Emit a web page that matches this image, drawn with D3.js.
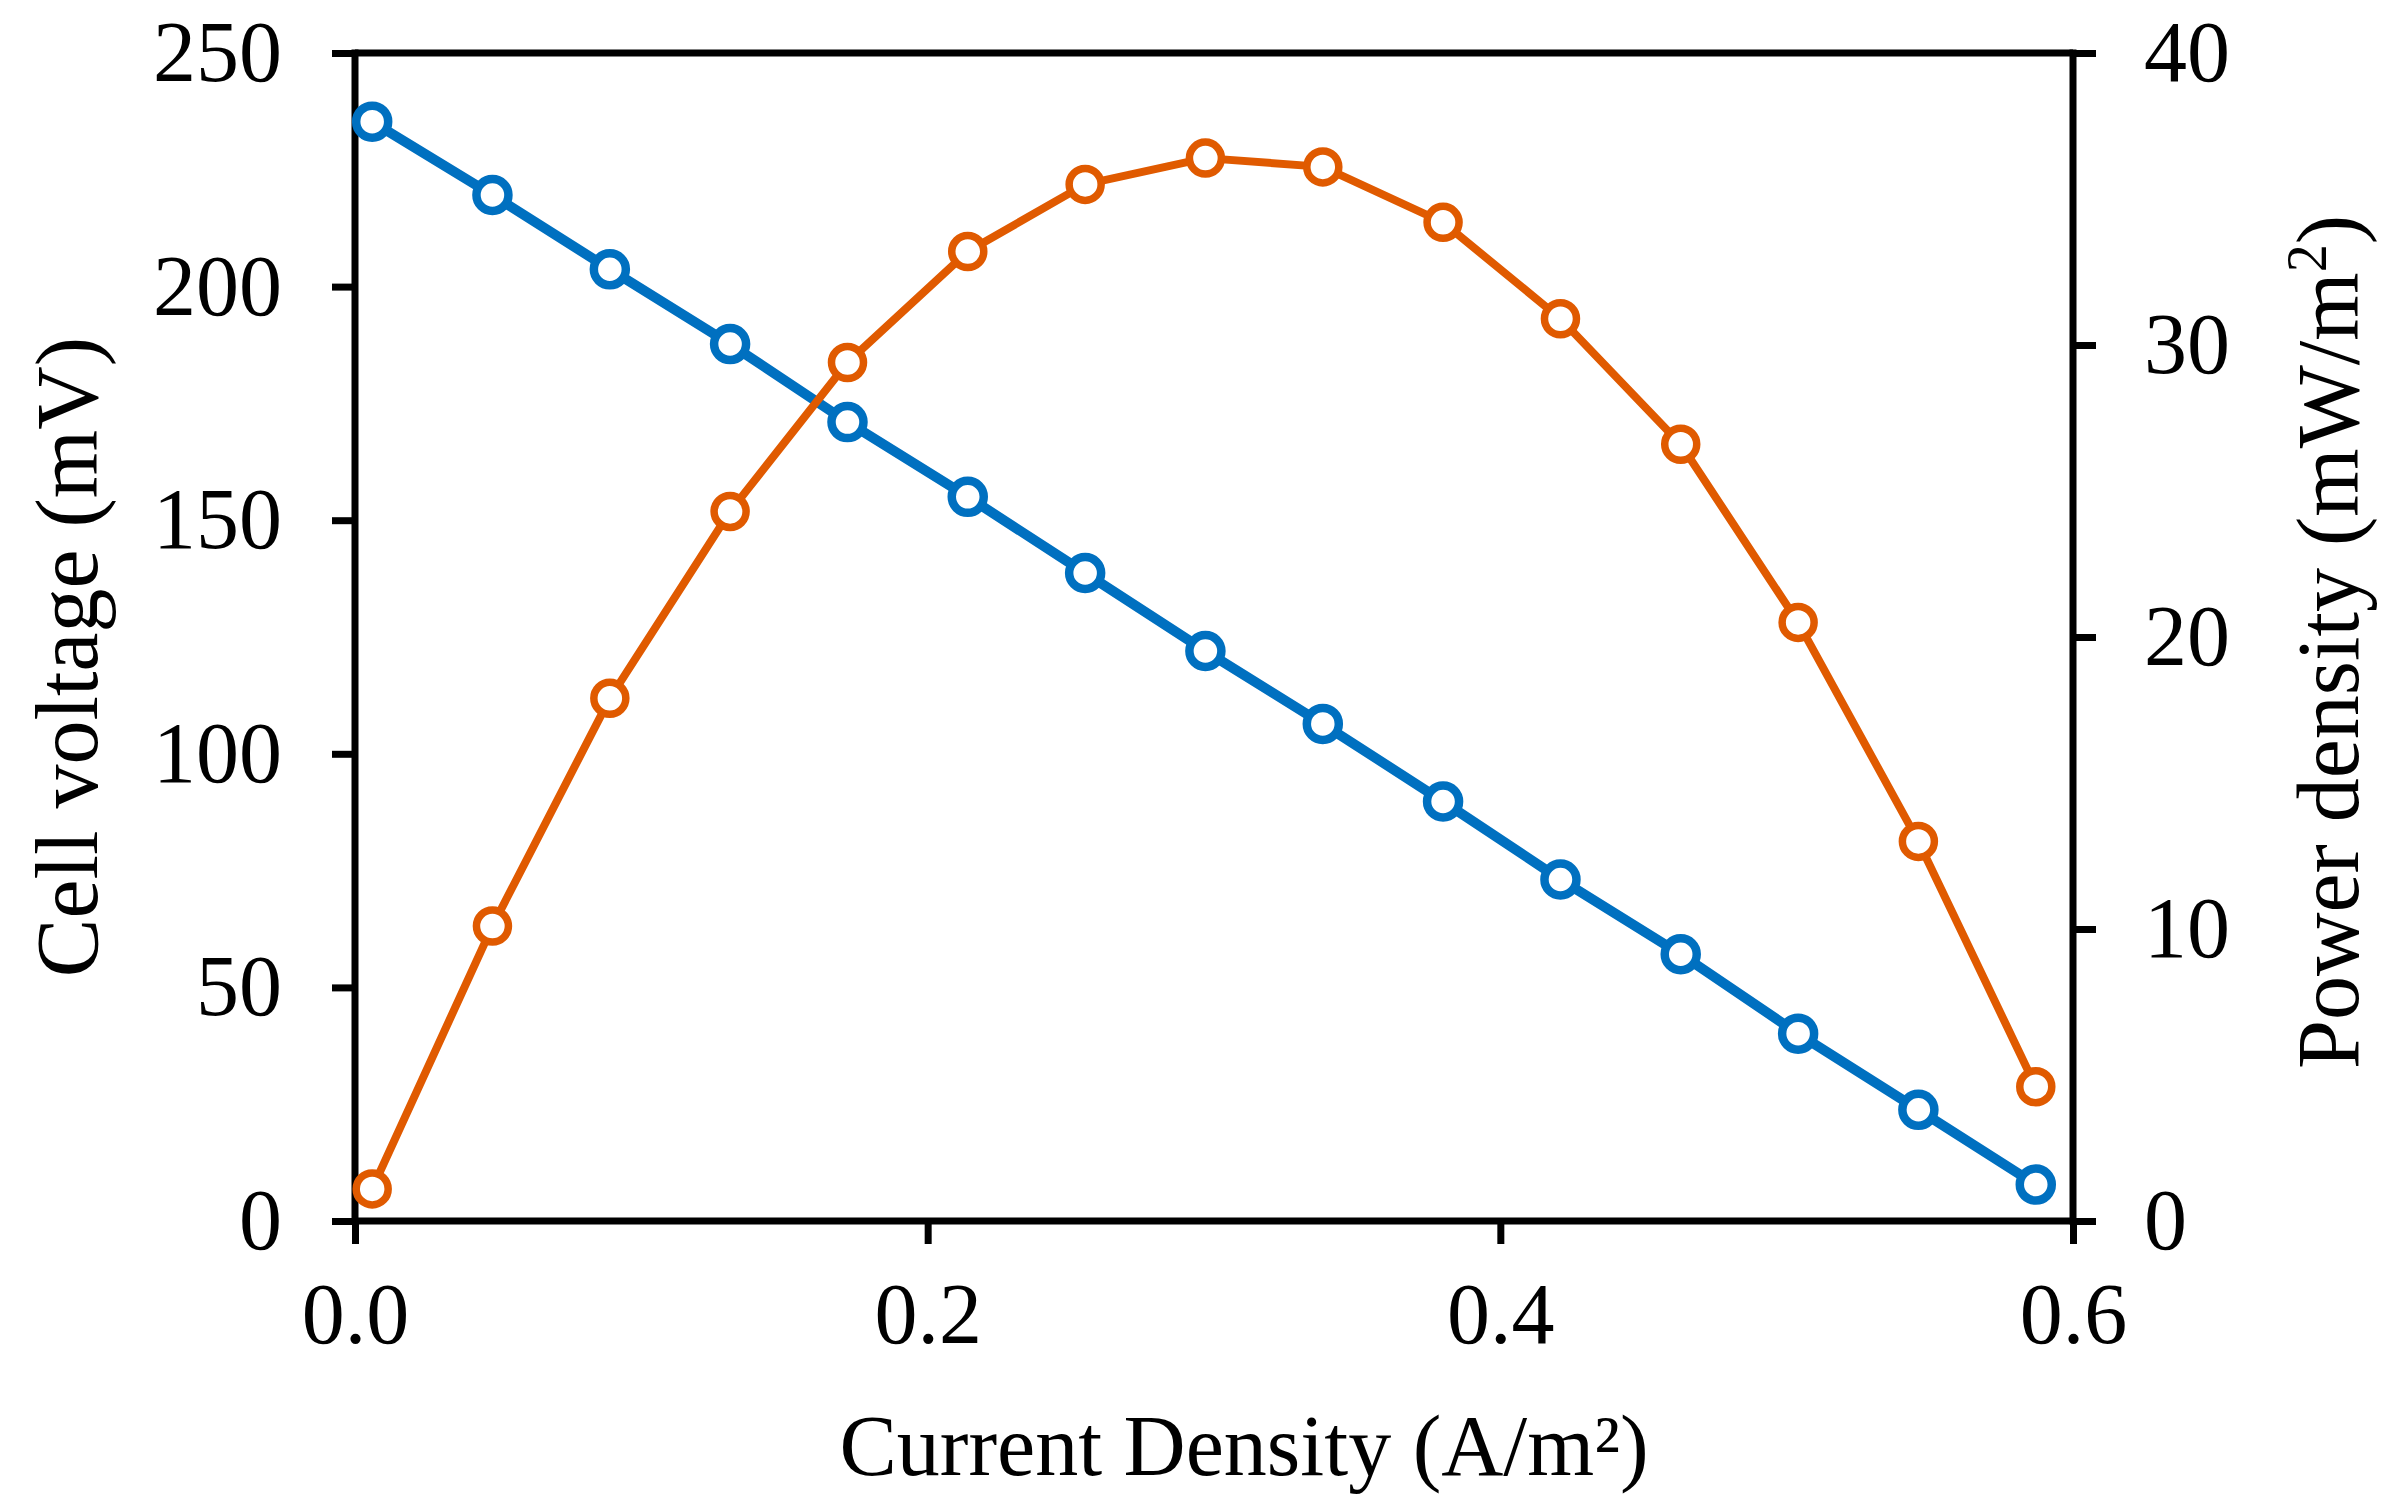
<!DOCTYPE html>
<html>
<head>
<meta charset="utf-8">
<script src="https://cdn.jsdelivr.net/npm/d3@7"></script>
<style>
	body { margin: 0; background: #fff; }
	text { font-family: "Liberation Serif", "DejaVu Serif", serif; fill: #000; }
</style>
</head>
<body>
<svg id="chart0"></svg>
<script>
	// current density (A/m2)
	var current_density = [0.006, 0.048, 0.089, 0.131, 0.172, 0.214, 0.255, 0.297,
							0.338, 0.380, 0.421, 0.463, 0.504, 0.546, 0.587];
	// cell voltage (mV)
	var cell_voltage = [235.3, 219.6, 203.7, 187.7, 171.0, 155.0, 138.7, 122.0,
							106.4, 89.8, 73.1, 57.1, 40.1, 23.8, 7.8];
	// power density (mW/m2)
	var power_density = [1.1, 10.1, 17.9, 24.3, 29.4, 33.2, 35.5, 36.4,
							36.1, 34.2, 30.9, 26.6, 20.5, 13.0, 4.6];

	var x_ticks = [0, 0.2, 0.4, 0.6];
	var y_left_ticks = [0, 50, 100, 150, 200, 250];
	var y_right_ticks = [0, 10, 20, 30, 40];

	var width = 2390;
	var height = 1512;
	var margin = {'top': 53, 'bottom': 291, 'left': 355, 'right': 317};
	var plot_w = width - margin.left - margin.right;
	var plot_h = height - margin.top - margin.bottom;

	var tick_len = 23;
	var axis_w = 7;
	var font_size = 86;

	var x_conv = d3.scaleLinear().domain([0, 0.6]).range([0, plot_w]);
	var y_left = d3.scaleLinear().domain([0, 250]).range([plot_h, 0]);
	var y_right = d3.scaleLinear().domain([0, 40]).range([plot_h, 0]);

	var svg = d3.select('#chart0')
		.attr('width', width)
		.attr('height', height);

	var chart = svg.append('g')
		.attr('transform', 'translate(' + margin.left + ',' + margin.top + ')');

	function style_axis(g) {
		g.select('.domain').remove();
		g.selectAll('.tick line')
			.attr('stroke', '#000')
			.attr('stroke-width', axis_w);
		g.selectAll('.tick text')
			.style('font-size', font_size + 'px')
			.style('font-family', '"Liberation Serif", serif');
	}

	// axes
	chart.append('g')
		.attr('transform', 'translate(0,' + plot_h + ')')
		.call(d3.axisBottom(x_conv).tickValues(x_ticks).tickFormat(d3.format('.1f'))
			.tickSize(tick_len).tickPadding(38))
		.call(style_axis);

	chart.append('g')
		.call(d3.axisLeft(y_left).tickValues(y_left_ticks)
			.tickSize(tick_len).tickPadding(50))
		.call(style_axis);

	chart.append('g')
		.attr('transform', 'translate(' + plot_w + ',0)')
		.call(d3.axisRight(y_right).tickValues(y_right_ticks)
			.tickSize(tick_len).tickPadding(48))
		.call(style_axis);

	// frame lines
	var frame = [
		[[0, 0], [plot_w, 0]],
		[[0, plot_h], [plot_w, plot_h]],
		[[0, -axis_w / 2], [0, plot_h + axis_w / 2]],
		[[plot_w, -axis_w / 2], [plot_w, plot_h + axis_w / 2]]
	];
	chart.selectAll('line.frame')
		.data(frame).enter()
		.append('line')
		.attr('class', 'frame')
		.attr('x1', function(d) { return d[0][0]; })
		.attr('y1', function(d) { return d[0][1]; })
		.attr('x2', function(d) { return d[1][0]; })
		.attr('y2', function(d) { return d[1][1]; })
		.attr('stroke', '#000')
		.attr('stroke-width', axis_w);

	// series
	var series = [
		{'name': 'voltage', 'values': cell_voltage, 'scale': y_left, 'color': '#0070C0', 'lw': 10, 'mw': 8.5},
		{'name': 'power', 'values': power_density, 'scale': y_right, 'color': '#E05A00', 'lw': 8, 'mw': 7.5}
	];

	series.forEach(function(s) {
		var pts = current_density.map(function(x, i) { return [x, s.values[i]]; });
		var line = d3.line()
			.x(function(d) { return x_conv(d[0]); })
			.y(function(d) { return s.scale(d[1]); });

		chart.append('path')
			.datum(pts)
			.attr('d', line)
			.attr('fill', 'none')
			.attr('stroke', s.color)
			.attr('stroke-width', s.lw)
			.attr('stroke-linejoin', 'round');

		chart.selectAll('circle.' + s.name)
			.data(pts).enter()
			.append('circle')
			.attr('class', s.name)
			.attr('cx', function(d) { return x_conv(d[0]); })
			.attr('cy', function(d) { return s.scale(d[1]); })
			.attr('r', 16)
			.attr('fill', '#fff')
			.attr('stroke', s.color)
			.attr('stroke-width', s.mw);
	});

	// axis titles
	svg.append('text')
		.attr('x', 1244)
		.attr('y', 1475)
		.attr('text-anchor', 'middle')
		.style('font-size', '86px')
		.html('Current Density (A/m²)');

	svg.append('text')
		.attr('transform', 'translate(97,' + (margin.top + plot_h / 2 + 20) + ') rotate(-90)')
		.attr('text-anchor', 'middle')
		.style('font-size', '88px')
		.text('Cell voltage (mV)');

	svg.append('text')
		.attr('transform', 'translate(2358,' + (margin.top + plot_h / 2 + 5) + ') rotate(-90)')
		.attr('text-anchor', 'middle')
		.style('font-size', '88px')
		.html('Power density (mW/m<tspan dy="-32" style="font-size:56px">2</tspan><tspan dy="32">)</tspan>');
</script>
</body>
</html>
